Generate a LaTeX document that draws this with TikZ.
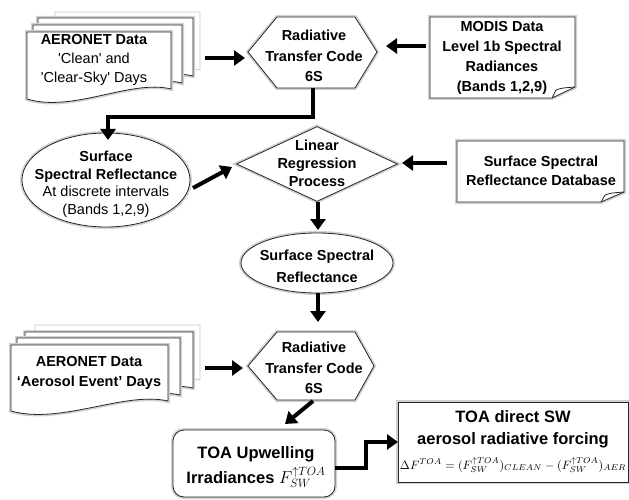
\documentclass[tikz,border=0pt]{standalone}
\usepackage{fontspec}
\usepackage{graphicx}
\setmainfont{Liberation Sans}
\usetikzlibrary{arrows.meta,shapes.geometric}
\newcommand\wavedoc[5][]{\path[#1] (#2,#3) -- (#4,#3) -- (#4,{#5-10}) .. controls ({#2+0.72*(#4-#2)},{#5-20}) and ({#2+0.32*(#4-#2)},{#5+14}) .. (#2,#5) -- cycle;}
\begin{document}
\begin{tikzpicture}[x=1pt,y=-1pt,
  shp/.style={draw=black!85,line width=0.8pt,fill=white,preaction={draw=black!18,line width=4pt}},
  ghost/.style={draw=black!22,line width=0.8pt,fill=white},
  arr/.style={line width=4pt,-{Triangle[length=11pt,width=15pt]}},
  bt/.style={font=\fontsize{14.5}{19.5}\selectfont\bfseries,align=center,inner sep=0pt},
  rt/.style={font=\fontsize{14.5}{19}\selectfont,align=center,inner sep=0pt},
  lt/.style={font=\fontsize{16.5}{22}\selectfont\bfseries,align=center,inner sep=0pt}]
\useasboundingbox[fill=white] (0,0) rectangle (629,500);

% ---- AERONET stack 1
\wavedoc[ghost]{55}{12}{200}{80}
\wavedoc[shp]{38}{18}{193}{86}
\wavedoc[shp]{33}{25}{182}{93}
\wavedoc[shp]{27}{32}{171}{99}
\node[rt] (aer1) at (94,60) {\textbf{AERONET Data}\\\textquotesingle Clean\textquotesingle{} and\\\textquotesingle Clear-Sky\textquotesingle{} Days};

% ---- Hexagon 1
\path[shp] (248,52) -- (277,17) -- (355,17) -- (377,52) -- (355,88) -- (277,88) -- cycle;
\node[bt,font=\fontsize{14.5}{20.5}\selectfont\bfseries] (hex1) at (314,56) {Radiative\\Transfer Code\\6S};

% ---- MODIS doc
\path[shp] (430,17) -- (575,17) -- (575,87) -- (552,98) -- (430,98) -- cycle;
\draw[black!85,line width=0.8pt] (552,98) -- (556,90) .. controls (562,88) .. (575,87);
\node[bt,font=\fontsize{14.5}{20}\selectfont\bfseries] (modis) at (502,58) {MODIS Data\\Level 1b Spectral\\Radiances\\(Bands 1,2,9)};

% ---- Ellipse 1
\node[shp,ellipse,minimum width=168pt,minimum height=94pt,inner sep=0pt] (ell1) at (106,180) {};
\node[rt,font=\fontsize{14.5}{17.5}\selectfont] (ell1t) at (106,184) {\textbf{Surface}\\\textbf{Spectral Reflectance}\\At discrete intervals\\(Bands 1,2,9)};

% ---- Diamond
\node[shp,diamond,minimum width=161pt,minimum height=75pt,inner sep=0pt] (dia) at (317,164) {};
\node[bt,font=\fontsize{14.5}{18}\selectfont\bfseries] (diat) at (317,163) {Linear\\Regression\\Process};

% ---- Database doc
\path[shp] (457,141) -- (624,141) -- (624,192) -- (601,202) -- (457,202) -- cycle;
\draw[black!85,line width=0.8pt] (601,202) -- (605,195) .. controls (611,193) .. (624,192);
\node[bt,font=\fontsize{14.5}{18.5}\selectfont\bfseries] (db) at (541,171) {Surface Spectral\\Reflectance Database};

% ---- Ellipse 2
\node[shp,ellipse,minimum width=152pt,minimum height=60pt,inner sep=0pt] (ell2) at (317,263) {};
\node[bt,font=\fontsize{14.5}{22}\selectfont\bfseries] (ell2t) at (317,266) {Surface Spectral\\Reflectance};

% ---- AERONET stack 2
\wavedoc[ghost]{35}{325}{200}{390}
\wavedoc[shp]{25}{332}{193}{398}
\wavedoc[shp]{17}{338}{180}{405}
\wavedoc[shp]{11}{345}{168}{411}
\node[bt,font=\fontsize{14.5}{20}\selectfont\bfseries] (aer2) at (89,373) {AERONET Data\\`Aerosol Event' Days};

% ---- Hexagon 2
\path[shp] (248,366) -- (277,332) -- (355,332) -- (374,366) -- (355,400) -- (277,400) -- cycle;
\node[bt,font=\fontsize{14.5}{20.5}\selectfont\bfseries] (hex2) at (314,368) {Radiative\\Transfer Code\\6S};

% ---- TOA upwelling box
\node[shp,rounded corners=11pt,minimum width=162pt,minimum height=67pt,inner sep=0pt] (toaup) at (254,463.5) {};
\node[lt,font=\fontsize{16.5}{25}\selectfont\bfseries] (toaupt) at (256,467) {TOA Upwelling\\Irradiances $F_{SW}^{\uparrow TOA}$};

% ---- TOA direct box
\node[shp,minimum width=230pt,minimum height=80pt,inner sep=0pt] (toad) at (513,442) {};
\node[lt] (toadt) at (513,429) {TOA direct SW\\aerosol radiative forcing};
\node[inner sep=0pt] (form) at (513,465) {\resizebox{226pt}{!}{$\Delta F^{TOA} = (F_{SW}^{\uparrow TOA})_{CLEAN} - (F_{SW}^{\uparrow TOA})_{AER}$}};

% ---- connector coordinates
\coordinate (a1s) at (205,58);  \coordinate (a1e) at (245,58);
\coordinate (a2s) at (426,46);  \coordinate (a2e) at (386,46);
\coordinate (a3s) at (313,88);  \coordinate (a3a) at (313,117); \coordinate (a3b) at (108,117); \coordinate (a3e) at (108,140);
\coordinate (a4s) at (193,188); \coordinate (a4e) at (232,167);
\coordinate (a5s) at (447,163); \coordinate (a5e) at (402,163);
\coordinate (a6s) at (318,202); \coordinate (a6e) at (318,230);
\coordinate (a7s) at (318,293); \coordinate (a7e) at (318,322);
\coordinate (a8s) at (205,368); \coordinate (a8e) at (243,368);
\coordinate (a9s) at (313,401); \coordinate (a9e) at (285,424);
\coordinate (a10s) at (335,468); \coordinate (a10a) at (366,468); \coordinate (a10b) at (366,442); \coordinate (a10e) at (398,442);

\draw[arr] (a1s) -- (a1e);
\draw[arr] (a2s) -- (a2e);
\draw[arr] (a3s) -- (a3a) -- (a3b) -- (a3e);
\draw[arr] (a4s) -- (a4e);
\draw[arr] (a5s) -- (a5e);
\draw[arr] (a6s) -- (a6e);
\draw[arr] (a7s) -- (a7e);
\draw[arr] (a8s) -- (a8e);
\draw[arr] (a9s) -- (a9e);
\draw[arr] (a10s) -- (a10a) -- (a10b) -- (a10e);
\end{tikzpicture}
\end{document}
